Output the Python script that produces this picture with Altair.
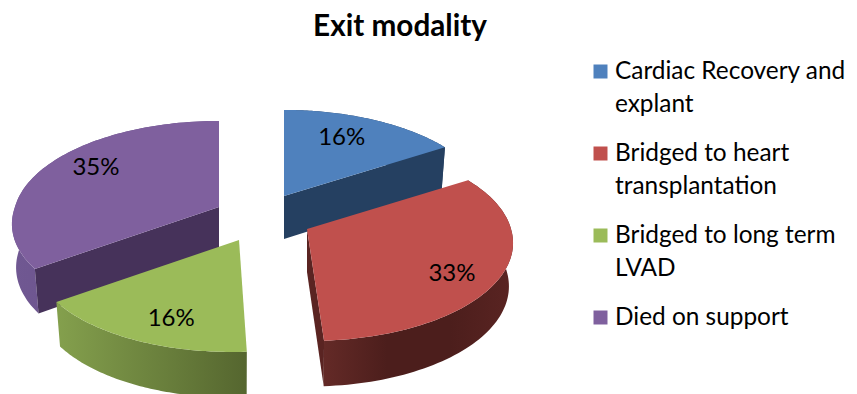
import numpy as np
import pandas as pd
import altair as alt

# Exit modality shares, clockwise from twelve o'clock
categories = ["Cardiac Recovery and explant", "Bridged to heart transplantation",
              "Bridged to long term LVAD", "Died on support"]
shares = [16, 33, 16, 35]
legend_lines = [["Cardiac Recovery and", "explant"], ["Bridged to heart", "transplantation"],
                ["Bridged to long term", "LVAD"], ["Died on support"]]

top_colors = ["#4f81bd", "#c0504d", "#9bbb59", "#7f609e"]
face_colors = ["#254061", "#5a2422", "#5d7033", "#46325a"]
wall_stops = [["#254061", "#254061"],
              ["#642a27", "#4c1e1c", "#4c1e1c", "#5a2422"],
              ["#84a04d", "#55662f"],
              ["#705892", "#654d85"]]

# Exploded apex of each slice and the label nudges, in pixels
apexes = [(284, 196), (307, 229), (239, 240), (219, 207)]
nudges = [(-4, -4), (9, 12), (5.5, 9), (-3, -10)]
# Which radial cut of each slice faces the viewer: 0 = start edge, 1 = end edge
visible_cuts = [[1], [1], [], [0]]
RX, RY, PERSPECTIVE, DEPTH, INSET = 204, 97.3, 0.131, 43, 0.98
VIEW_X, SPREAD = 290, 0.9
FONT = "Lato"


def project(theta, apex, lower=False, radius=1.0):
    """Tilted-disc perspective: the near edge of the pie draws larger and spreads outward."""
    sx, back = np.sin(theta), -np.cos(theta)
    s = 1 / (1 - PERSPECTIVE * back)
    dx, dy = RX * sx * s * radius, RY * back * s * radius
    dx += SPREAD * (apex[0] - VIEW_X) * max(s - 1, 0) * radius
    if lower:
        return apex[0] + INSET * dx, apex[1] + dy + DEPTH + 2.5 * back * radius
    return apex[0] + dx, apex[1] + dy


def polygon(points):
    xs, ys = zip(*points)
    return pd.DataFrame({"x": xs, "y": ys, "i": range(len(xs))})


X = alt.X("x:Q", scale=alt.Scale(domain=[0, 857], nice=False, zero=False), axis=None)
Y = alt.Y("y:Q", scale=alt.Scale(domain=[394, 0], nice=False, zero=False), axis=None)


def shape(points, fill):
    return alt.Chart(polygon(points)).mark_line(
        fill=fill, strokeWidth=0, strokeOpacity=0, clip=True, interpolate="linear-closed"
    ).encode(x=X, y=Y, order="i:Q")


def gradient(stops):
    n = len(stops) - 1
    return alt.Gradient(gradient="linear", x1=0, x2=1, y1=0, y2=0,
                        stops=[alt.GradientStop(offset=k / n, color=c) for k, c in enumerate(stops)])


edges = np.cumsum([0] + shares) / sum(shares) * 2 * np.pi
layers = {}
for k, apex in enumerate(apexes):
    t0, t1 = edges[k], edges[k + 1]
    arc = np.linspace(t0, t1, 80)
    rim = [project(t, apex) for t in arc]
    low = [project(t, apex, lower=True) for t in arc]
    parts = [shape(rim + low[::-1], gradient(wall_stops[k]))]
    for cut in visible_cuts[k]:
        t = (t0, t1)[cut]
        parts.append(shape([project(t, apex, radius=0), project(t, apex),
                            project(t, apex, lower=True), project(t, apex, lower=True, radius=0)],
                           face_colors[k]))
    parts.append(shape([project(t0, apex, radius=0)] + rim, top_colors[k]))
    layers[k] = parts

# Painted from the back of the pie to the front
drawn = []
for k in (0, 3, 1, 2):
    drawn += layers[k]

# Percentage labels sit at 70% of the radius along each slice's mid-angle
mids = (edges[:-1] + edges[1:]) / 2
labels = pd.DataFrame({
    "x": [project(m, a, radius=0.7)[0] + n[0] for m, a, n in zip(mids, apexes, nudges)],
    "y": [project(m, a, radius=0.7)[1] + n[1] for m, a, n in zip(mids, apexes, nudges)],
    "text": [f"{v}%" for v in shares],
})
label_layer = alt.Chart(labels).mark_text(font=FONT, fontSize=24, color="#000000", baseline="middle").encode(
    x=X, y=Y, text="text:N")

title_layer = alt.Chart(pd.DataFrame({"x": [400], "y": [27], "text": ["Exit modality"]})).mark_text(
    font=FONT, fontSize=29.7, fontWeight="bold", color="#000000", baseline="middle").encode(x=X, y=Y, text="text:N")

# Legend: a swatch per category with its wrapped text beside it
LEGEND_TOP, ROW_PITCH, LINE_PITCH = 71.5, 82, 33
swatches = pd.DataFrame({
    "x": [600.5] * 4,
    "y": [LEGEND_TOP + ROW_PITCH * k for k in range(4)],
    "category": categories,
})
swatch_layer = alt.Chart(swatches).mark_square(size=196, opacity=1, filled=True).encode(
    x=X, y=Y,
    color=alt.Color("category:N", scale=alt.Scale(domain=categories, range=top_colors), legend=None))

rows = [(615, LEGEND_TOP + ROW_PITCH * k + LINE_PITCH * j, line)
        for k, lines in enumerate(legend_lines) for j, line in enumerate(lines)]
legend_text = alt.Chart(pd.DataFrame(rows, columns=["x", "y", "text"])).mark_text(
    font=FONT, fontSize=24.4, align="left", baseline="middle", color="#000000").encode(x=X, y=Y, text="text:N")

chart = alt.layer(*drawn, label_layer, title_layer, swatch_layer, legend_text).properties(
    width=857, height=394, padding=0, background="#ffffff",
    autosize=alt.AutoSizeParams(type="none"),
).configure_view(stroke=None)

chart.save("out.html", embed_options={"renderer": "svg", "actions": False})
